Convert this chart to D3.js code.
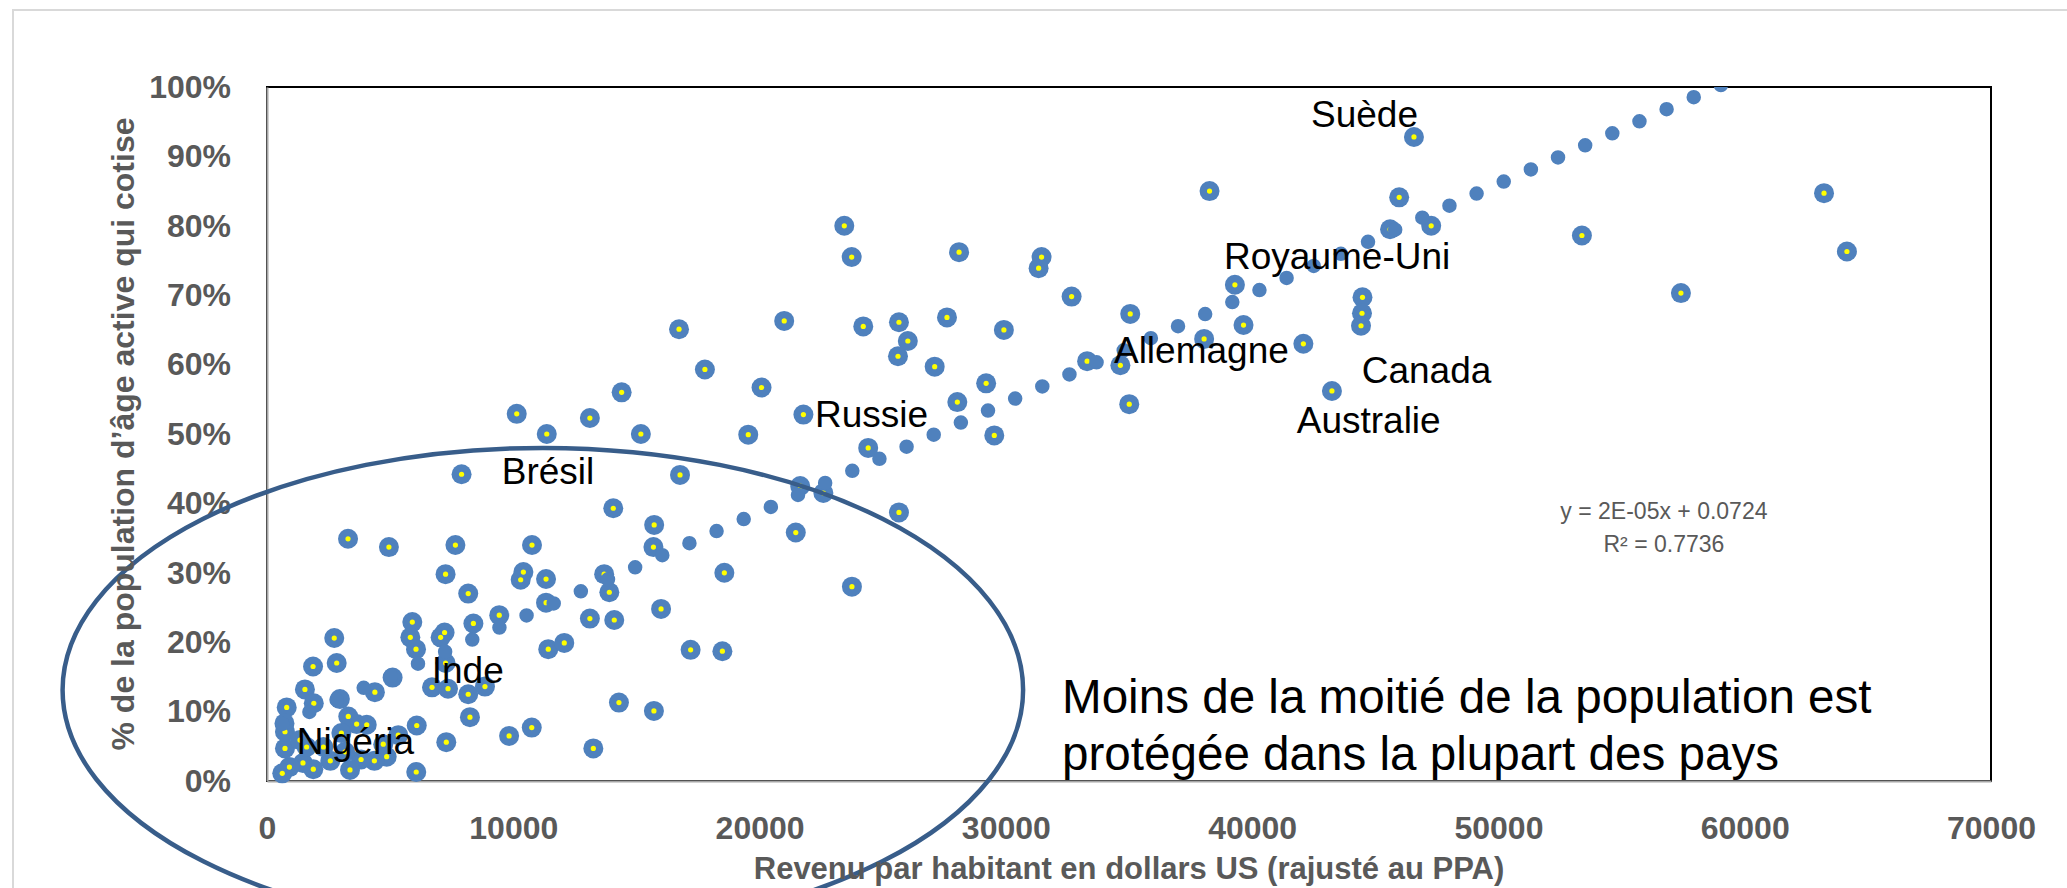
<!DOCTYPE html>
<html>
<head>
<meta charset="utf-8">
<script src="https://cdn.jsdelivr.net/npm/d3@7"></script>
<style>
  body { margin: 0; background: #fff; }
  svg { display: block; }
</style>
</head>
<body>
<svg id="chart" width="2067" height="888"></svg>
<script>
// Revenu par habitant (US$ PPA) et part de la population active qui cotise
const income = [
  17780, 20080, 14400, 10140, 13110, 11360, 15180, 19540, 7900, 16770,
  14060, 15720, 3290, 4950, 7650, 10760, 15690, 7250, 10410, 10300,
  11330, 8170, 13690, 13900, 11330, 18570, 16000, 13110, 14100, 9430,
  8380, 13250, 14290, 15710, 17200, 18490, 16730,
  5900, 5820, 6050, 7210, 7050, 7250, 11420, 12070, 2730, 2830,
  1870, 1540, 1900, 800, 2960, 4380, 5100, 6700, 7350, 8170,
  8850, 8240, 9830, 10750, 7280, 6060, 6080, 5330, 4720, 4860,
  4360, 3820, 3640, 3300, 4050, 2570, 1460, 910, 620, 730,
  730, 710, 1610, 2290, 1880, 3370, 3170, 1340, 3020,
  38270, 23440, 23740, 28100, 31450, 31330, 32670, 39300, 21000, 24210,
  25660, 26020, 25620, 27610, 29920, 27110, 35050, 39650, 38050, 33300,
  34650, 35010, 29200, 28030, 29530, 21780, 24410, 21650, 22590, 25660,
  21470, 23750,
  46570, 45970, 45600, 47270, 53390, 57410, 44480, 44460, 44420, 42080,
  43240, 63220, 64150
];
const share = [
  0.593, 0.567, 0.560, 0.529, 0.523, 0.500, 0.500, 0.499, 0.442, 0.441,
  0.393, 0.369, 0.349, 0.337, 0.340, 0.340, 0.337, 0.298, 0.301, 0.290,
  0.291, 0.270, 0.298, 0.272, 0.257, 0.300, 0.248, 0.234, 0.232, 0.239,
  0.227, 0.047, 0.113, 0.101, 0.189, 0.187, 0.651,
  0.229, 0.207, 0.190, 0.214, 0.207, 0.170, 0.190, 0.199, 0.206, 0.170,
  0.165, 0.132, 0.112, 0.106, 0.118, 0.128, 0.149, 0.135, 0.133, 0.125,
  0.136, 0.092, 0.065, 0.077, 0.056, 0.013, 0.080, 0.066, 0.053, 0.035,
  0.029, 0.031, 0.082, 0.093, 0.081, 0.029, 0.026, 0.020, 0.011, 0.047,
  0.071, 0.083, 0.049, 0.049, 0.017, 0.016, 0.042, 0.059, 0.069,
  0.850, 0.800, 0.755, 0.762, 0.755, 0.739, 0.698, 0.715, 0.663, 0.655,
  0.661, 0.634, 0.612, 0.668, 0.650, 0.597, 0.673, 0.657, 0.637, 0.605,
  0.599, 0.543, 0.573, 0.546, 0.498, 0.528, 0.480, 0.425, 0.415, 0.387,
  0.358, 0.280,
  0.928, 0.841, 0.795, 0.800, 0.786, 0.703, 0.697, 0.674, 0.656, 0.630,
  0.562, 0.847, 0.763
];

// Étiquettes de pays (point d'ancrage du texte, en unités du graphique)
const labelText = ['Suède', 'Royaume-Uni', 'Allemagne', 'Canada', 'Australie', 'Russie', 'Brésil', 'Inde', 'Nigéria'];
const labelIncome = [42390, 38860, 34390, 44450, 41810, 22250, 9530, 6690, 1210];
const labelShare = [0.942, 0.738, 0.602, 0.573, 0.502, 0.5105, 0.4275, 0.1416, 0.0389];

const xTickValues = [0, 10000, 20000, 30000, 40000, 50000, 60000, 70000];
const yTickValues = [0, 0.1, 0.2, 0.3, 0.4, 0.5, 0.6, 0.7, 0.8, 0.9, 1.0];

// Courbe de tendance linéaire (Excel)
const trendIntercept = 0.0724;
const trendSlope = 1.576e-5;
const trendLabel = ['y = 2E-05x + 0.0724', 'R² = 0.7736'];

const noteLines = ['Moins de la moitié de la population est', 'protégée dans la plupart des pays'];
const xTitle = 'Revenu par habitant en dollars US (rajusté au PPA)';
const yTitle = '% de la population d’âge active qui cotise';

const FONT = '"Liberation Sans", Arial, sans-serif';
const BLUE = '#4F81BD';

const svg = d3.select('#chart');
const x = d3.scaleLinear().domain([0, 70000]).range([267, 1991]);
const y = d3.scaleLinear().domain([0, 1]).range([781, 87]);

// cadre extérieur du graphique
svg.append('rect')
  .attr('x', 13).attr('y', 10).attr('width', 2200).attr('height', 1000)
  .attr('fill', '#fff').attr('stroke', '#D9D9D9').attr('stroke-width', 2);

// zone de traçage
svg.append('rect')
  .attr('x', x(0)).attr('y', y(1))
  .attr('width', x(70000) - x(0)).attr('height', y(0) - y(1))
  .attr('fill', '#fff').attr('stroke', '#000').attr('stroke-width', 2);

svg.append('clipPath').attr('id', 'plotclip')
  .append('rect')
  .attr('x', x(0)).attr('y', y(1))
  .attr('width', x(70000) - x(0)).attr('height', y(0) - y(1));

// axes
const gx = svg.append('g')
  .attr('transform', `translate(0,${y(0)})`)
  .call(d3.axisBottom(x).tickValues(xTickValues).tickFormat(d3.format('d')).tickSize(0).tickPadding(35));
const gy = svg.append('g')
  .attr('transform', `translate(${x(0)},0)`)
  .call(d3.axisLeft(y).tickValues(yTickValues).tickFormat(d3.format('.0%')).tickSize(0).tickPadding(36));

[gx, gy].forEach(g => {
  g.attr('font-family', FONT).attr('font-size', 32).attr('font-weight', 'bold');
  g.select('.domain').attr('stroke', '#A6A6A6').attr('stroke-width', 2);
  g.selectAll('text').attr('fill', '#595959');
});

// marqueurs
const pts = d3.zip(income, share);
const gMark = svg.append('g');
gMark.selectAll('circle.outer')
  .data(pts).join('circle')
  .attr('class', 'outer')
  .attr('cx', d => x(d[0])).attr('cy', d => y(d[1])).attr('r', 10)
  .attr('fill', BLUE);
gMark.selectAll('circle.inner')
  .data(pts).join('circle')
  .attr('class', 'inner')
  .attr('cx', d => x(d[0])).attr('cy', d => y(d[1])).attr('r', 2.6)
  .attr('fill', '#FFFF00');

// tendance en pointillés ronds, par-dessus les marqueurs
const x0 = d3.min(income), x1 = d3.max(income);
svg.append('path')
  .attr('clip-path', 'url(#plotclip)')
  .attr('d', d3.line()([[x(x0), y(trendIntercept + trendSlope * x0)], [x(x1), y(trendIntercept + trendSlope * x1)]]))
  .attr('fill', 'none').attr('stroke', BLUE)
  .attr('stroke-width', 14.5).attr('stroke-linecap', 'round')
  .attr('stroke-dasharray', '0 29.7');

// étiquettes des pays
svg.append('g').selectAll('text')
  .data(labelText).join('text')
  .attr('x', (d, i) => x(labelIncome[i]))
  .attr('y', (d, i) => y(labelShare[i]))
  .attr('font-family', FONT).attr('font-size', 37).attr('fill', '#000')
  .text(d => d);

// équation de la tendance
svg.append('g').selectAll('text')
  .data(trendLabel).join('text')
  .attr('x', x(56720))
  .attr('y', (d, i) => y(0.3775) + i * 32.5)
  .attr('text-anchor', 'middle')
  .attr('font-family', FONT).attr('font-size', 23).attr('fill', '#595959')
  .text(d => d);

// ellipse entourant les pays à faible couverture
const ell = { cx: 11200, cy: 0.131, rx: 19500, ry: 0.349 };
svg.append('ellipse')
  .attr('cx', x(ell.cx)).attr('cy', y(ell.cy))
  .attr('rx', x(ell.rx) - x(0)).attr('ry', y(0) - y(ell.ry))
  .attr('fill', 'none').attr('stroke', '#385D8A').attr('stroke-width', 4.5);

// note
svg.append('g').selectAll('text')
  .data(noteLines).join('text')
  .attr('x', x(32280))
  .attr('y', (d, i) => y(0.098) + i * 57)
  .attr('font-family', FONT).attr('font-size', 47.6).attr('fill', '#000')
  .text(d => d);

// titres des axes
svg.append('text')
  .attr('x', (x(0) + x(70000)) / 2).attr('y', 879)
  .attr('text-anchor', 'middle')
  .attr('font-family', FONT).attr('font-size', 31).attr('font-weight', 'bold').attr('fill', '#595959')
  .text(xTitle);
svg.append('text')
  .attr('transform', `translate(134,${(y(0) + y(1)) / 2}) rotate(-90)`)
  .attr('text-anchor', 'middle')
  .attr('font-family', FONT).attr('font-size', 32).attr('font-weight', 'bold').attr('fill', '#595959')
  .text(yTitle);
</script>
</body>
</html>
